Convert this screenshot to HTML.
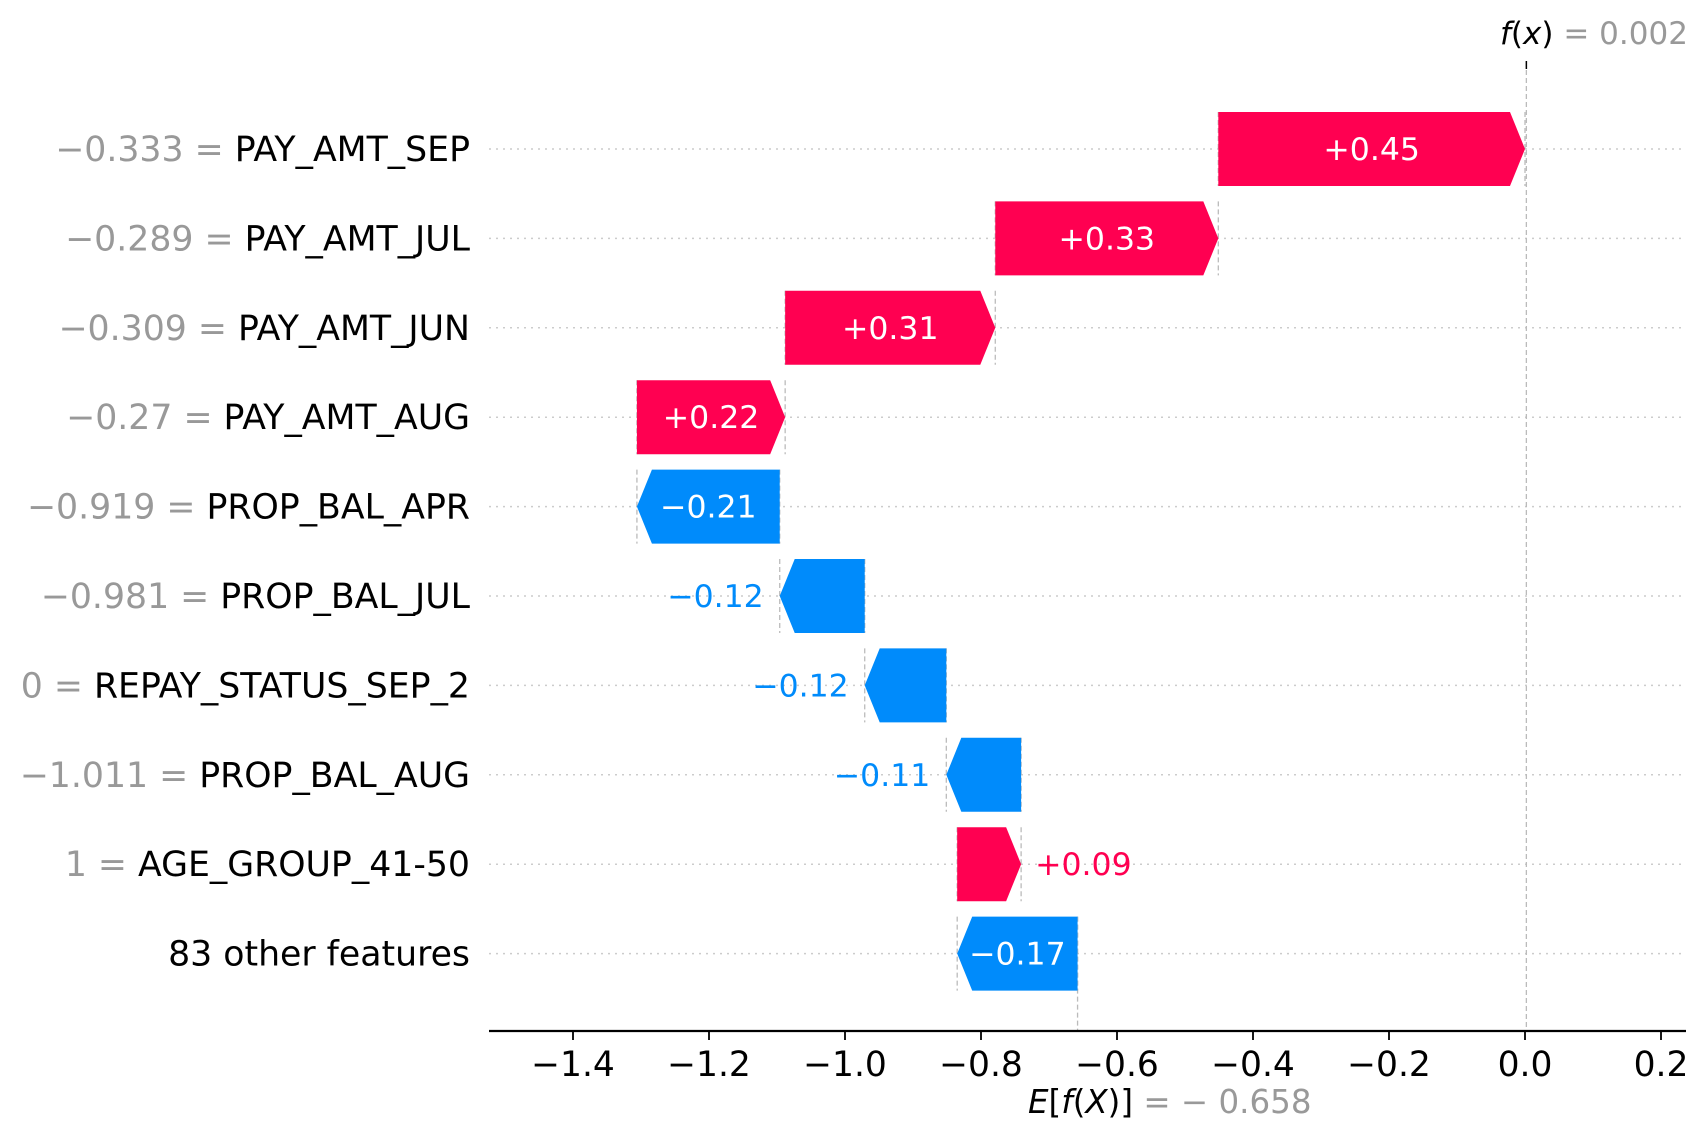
<!DOCTYPE html>
<html><head><meta charset="utf-8"><style>
html,body{margin:0;padding:0;background:#fff;}
svg{display:block;font-family:"DejaVu Sans","Liberation Sans",sans-serif;}
</style></head><body>
<svg id="chart" width="1707" height="1138" viewBox="0 0 1707 1138" xmlns="http://www.w3.org/2000/svg"></svg>
<script>
const featureValues = ["\u22120.333","\u22120.289","\u22120.309","\u22120.27","\u22120.919","\u22120.981","0","\u22121.011","1",""];
const featureNames = ["PAY_AMT_SEP","PAY_AMT_JUL","PAY_AMT_JUN","PAY_AMT_AUG","PROP_BAL_APR","PROP_BAL_JUL","REPAY_STATUS_SEP_2","PROP_BAL_AUG","AGE_GROUP_41-50","83 other features"];
const shapValues = [0.451,0.328,0.309,0.218,-0.21,-0.125,-0.12,-0.11,0.094,-0.177];
const valueLabels = ["+0.45","+0.33","+0.31","+0.22","\u22120.21","\u22120.12","\u22120.12","\u22120.11","+0.09","\u22120.17"];
const baseValue = -0.658;
const fxValue = 0.002;
const xTicks = [-1.4,-1.2,-1.0,-0.8,-0.6,-0.4,-0.2,0.0,0.2];
const xTickLabels = ["\u22121.4","\u22121.2","\u22121.0","\u22120.8","\u22120.6","\u22120.4","\u22120.2","0.0","0.2"];

const NS="http://www.w3.org/2000/svg";
const svg=document.getElementById('chart');
const x0=573,x1=1525;
function xs(v){return x0+(v+1.4)*(x1-x0)/1.4;}
function ys(i){return 149+i*89.4;}
const BH=74, HEAD=15, RED="#ff0051", BLUE="#008bfb", AXY=1031;
function mk(tag,attrs,parent){const e=document.createElementNS(NS,tag);for(const k in attrs)e.setAttribute(k,attrs[k]);(parent||svg).appendChild(e);return e;}

featureNames.forEach((n,i)=>{
  const g=mk('line',{x1:489,x2:1686,y1:ys(i),y2:ys(i),stroke:"#ccc","stroke-width":1.5,"stroke-dasharray":"2,5"});
  
  
});

const n=shapValues.length;
const starts=new Array(n), ends=new Array(n);
let cur=baseValue;
for(let i=n-1;i>=0;i--){starts[i]=cur;cur+=shapValues[i];ends[i]=cur;}

const fxl=mk('line',{x1:xs(fxValue),x2:xs(fxValue),y1:62,y2:AXY,stroke:"#bbb","stroke-width":1.3,"stroke-dasharray":"5,3"});


const ftk=mk('line',{x1:xs(fxValue),x2:xs(fxValue),y1:61,y2:69,stroke:"#000","stroke-width":1.5});


const el=mk('line',{x1:xs(baseValue),x2:xs(baseValue),y1:ys(n-1)-BH/2,y2:AXY,stroke:"#bbb","stroke-width":1.3,"stroke-dasharray":"5,3"});



for(let i=0;i<n;i++){
  [starts[i],ends[i]].forEach(v=>{
    const c=mk('line',{x1:xs(v),x2:xs(v),y1:ys(i)-BH/2,y2:ys(i)+BH/2,stroke:"#bbb","stroke-width":1.3,"stroke-dasharray":"5,3"});
    
    
  });
}

for(let i=0;i<n;i++){
  const v=shapValues[i], pos=v>0, col=pos?RED:BLUE;
  const a=xs(starts[i]), b=xs(ends[i]), y=ys(i), t=y-BH/2, bt=y+BH/2;
  let pts;
  if(pos){const h=Math.min(HEAD,b-a);pts=[[a,t],[b-h,t],[b,y],[b-h,bt],[a,bt]];}
  else{const h=Math.min(HEAD,a-b);pts=[[a,t],[b+h,t],[b,y],[b+h,bt],[a,bt]];}
  const p=mk('polygon',{points:pts.map(q=>q.join(',')).join(' '),fill:col});
  
  
  const w=Math.abs(b-a);
  let lab;
  if(w>100){
    lab=mk('text',{x:(a+b)/2,y:y+11,fill:"#fff","font-size":31.5,"text-anchor":"middle"});
  } else if(pos){
    lab=mk('text',{x:b+14,y:y+11,fill:col,"font-size":31.5,"text-anchor":"start"});
  } else {
    lab=mk('text',{x:b-16,y:y+11,fill:col,"font-size":31.5,"text-anchor":"end"});
  }
  lab.textContent=valueLabels[i];
  
  
}

featureNames.forEach((name,i)=>{
  const t=mk('text',{x:470,y:ys(i)+12,"font-size":34.7,"text-anchor":"end",fill:"#000"});
  if(featureValues[i]!==""){
    const s=mk('tspan',{fill:"#999"},t);s.textContent=featureValues[i]+" = ";
  }
  const s2=mk('tspan',{fill:"#000"},t);s2.textContent=name;
  
  
});

const ax=mk('line',{x1:489,x2:1686,y1:AXY,y2:AXY,stroke:"#000","stroke-width":2.2});


xTicks.forEach((v,i)=>{
  const tk=mk('line',{x1:xs(v),x2:xs(v),y1:AXY,y2:AXY+9,stroke:"#000","stroke-width":1.8});
  
  
  const tl=mk('text',{x:xs(v),y:1076,"font-size":34.5,"text-anchor":"middle",fill:"#000"});
  tl.textContent=xTickLabels[i];
  
  
});

const et=mk('text',{x:1028,y:1113,"font-size":32.5,"text-anchor":"start"});
const e1=mk('tspan',{fill:"#000","font-style":"italic"},et);e1.textContent="E";
const e1b=mk('tspan',{fill:"#000"},et);e1b.textContent="[";
const e2=mk('tspan',{fill:"#000","font-style":"italic"},et);e2.textContent="f";
const e3=mk('tspan',{fill:"#000"},et);e3.textContent="(";
const e4=mk('tspan',{fill:"#000","font-style":"italic"},et);e4.textContent="X";
const e5=mk('tspan',{fill:"#000"},et);e5.textContent=")]";
const e6=mk('tspan',{fill:"#999"},et);e6.textContent=" = \u2212 "+Math.abs(baseValue).toFixed(3);



const ft=mk('text',{x:1500,y:44,"font-size":31,"text-anchor":"start"});
const f1=mk('tspan',{fill:"#000","font-style":"italic"},ft);f1.textContent="f";
const f2=mk('tspan',{fill:"#000"},ft);f2.textContent="(";
const f3=mk('tspan',{fill:"#000","font-style":"italic"},ft);f3.textContent="x";
const f4=mk('tspan',{fill:"#000"},ft);f4.textContent=")";
const f5=mk('tspan',{fill:"#999"},ft);f5.textContent=" = "+fxValue.toFixed(3);


</script>
</body></html>
